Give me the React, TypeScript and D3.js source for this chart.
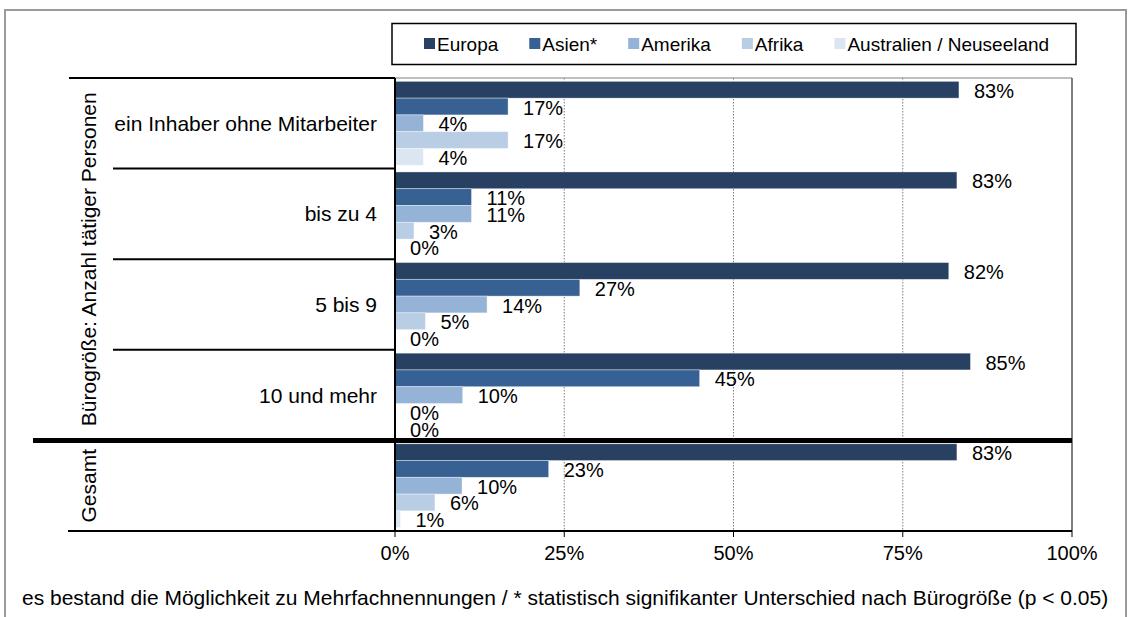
import React from "react";
import * as d3 from "d3";

const groups = ["ein Inhaber ohne Mitarbeiter", "bis zu 4", "5 bis 9", "10 und mehr", "Gesamt"];
const series = ["Europa", "Asien*", "Amerika", "Afrika", "Australien / Neuseeland"];
const colors = ["#284062", "#376093", "#95B3D7", "#B9CDE5", "#DCE6F2"];
const europa = [83.3, 83.0, 81.8, 85.0, 83.0];
const asien = [16.7, 11.3, 27.3, 45.0, 22.7];
const amerika = [4.2, 11.3, 13.6, 10.0, 9.9];
const afrika = [16.7, 2.8, 4.5, 0, 5.9];
const australien = [4.2, 0, 0, 0, 0.8];
const xTicks = [0, 25, 50, 75, 100];
const outerLabel = "Bürogröße: Anzahl tätiger Personen";
const totalLabel = "Gesamt";
const footnote =
  "es bestand die Möglichkeit zu Mehrfachnennungen / * statistisch signifikanter Unterschied nach Bürogröße (p < 0.05)";

const values = [europa, asien, amerika, afrika, australien];

const W = 1129;
const H = 617;
const FONT = "'Liberation Sans', Arial, Helvetica, sans-serif";
const plot = { left: 395, right: 1072, top: 78, bottom: 531 };

function measure(text: string, size: number) {
  const c = document.createElement("canvas").getContext("2d");
  if (!c) return text.length * size * 0.5;
  c.font = `${size}px 'Liberation Sans', Arial, sans-serif`;
  return c.measureText(text).width;
}

export default function App() {
  const x = d3.scaleLinear().domain([0, 100]).range([plot.left, plot.right]);
  const y0 = d3.scaleBand<string>().domain(groups).range([plot.top, plot.bottom]).padding(0);
  const y1 = d3
    .scaleBand<string>()
    .domain(series)
    .range([0, y0.bandwidth()])
    .paddingInner(0)
    .paddingOuter(0.2);

  // legend layout
  const legendFont = 19;
  const sw = 11;
  const gap = 31;
  const items: { x: number; label: string; color: string }[] = [];
  let lx = 424;
  series.forEach((s, i) => {
    items.push({ x: lx, label: s, color: colors[i] });
    lx += sw + 2 + measure(s, legendFont) + gap;
  });

  const boundaries = groups.map((g) => y0(g) as number);
  const thickY = y0("Gesamt") as number;

  return (
    <div style={{ position: "absolute", left: 0, top: 0 }}>
      <svg width={W} height={H} style={{ display: "block", background: "#fff" }} fontFamily={FONT}>
        <rect x={5} y={10} width={1121} height={640} fill="#fff" stroke="#9a9a9a" strokeWidth={2} />

        {/* legend */}
        <rect x={392} y={23.5} width={684} height={41} fill="#fff" stroke="#000" strokeWidth={1.5} />
        {items.map((it) => (
          <g key={it.label}>
            <rect x={it.x} y={38} width={sw} height={sw} fill={it.color} />
            <text x={it.x + sw + 2} y={44} dominantBaseline="central" fontSize={legendFont} fill="#000">
              {it.label}
            </text>
          </g>
        ))}

        {/* plot border (top/right) */}
        <line x1={plot.left} x2={plot.right} y1={plot.top} y2={plot.top} stroke="#808080" strokeWidth={1} />
        <line x1={plot.right} x2={plot.right} y1={plot.top} y2={plot.bottom} stroke="#000" strokeWidth={1} />

        {/* gridlines */}
        {xTicks
          .filter((t) => t > 0 && t < 100)
          .map((t) => (
            <line
              key={t}
              x1={x(t)}
              x2={x(t)}
              y1={plot.top}
              y2={plot.bottom}
              stroke="#7f7f7f"
              strokeWidth={1}
              strokeDasharray="1.5,1.5"
            />
          ))}

        {/* bars */}
        {groups.map((g, gi) =>
          series.map((s, si) => {
            const v = values[si][gi];
            const yy = (y0(g) as number) + (y1(s) as number);
            const h = y1.bandwidth();
            return (
              <g key={g + s}>
                {v > 0 && (
                  <rect
                    x={x(0)}
                    y={yy}
                    width={x(v) - x(0)}
                    height={h}
                    fill={colors[si]}
                    stroke="#ffffff"
                    strokeOpacity={0.5}
                    strokeWidth={0.75}
                  />
                )}
                <text
                  x={x(v) + 15}
                  y={yy + h / 2 + 1}
                  dominantBaseline="central"
                  fontSize={20}
                  fill="#000"
                >
                  {Math.round(v)}%
                </text>
              </g>
            );
          })
        )}

        {/* left structure */}
        <line x1={69} x2={plot.left} y1={plot.top} y2={plot.top} stroke="#000" strokeWidth={2} />
        {boundaries.slice(1, 4).map((b, i) => (
          <line key={i} x1={113} x2={plot.left} y1={b} y2={b} stroke="#000" strokeWidth={2} />
        ))}
        <line x1={33} x2={plot.right} y1={thickY} y2={thickY} stroke="#000" strokeWidth={5} />
        <line x1={68} x2={plot.right} y1={plot.bottom} y2={plot.bottom} stroke="#000" strokeWidth={2} />
        <line x1={plot.left} x2={plot.left} y1={plot.top} y2={plot.bottom} stroke="#000" strokeWidth={2} />

        {/* x ticks */}
        {xTicks.map((t) => (
          <g key={t}>
            <line x1={x(t)} x2={x(t)} y1={plot.bottom} y2={plot.bottom + 6} stroke="#000" strokeWidth={1} />
            <text x={x(t)} y={553} textAnchor="middle" dominantBaseline="central" fontSize={20} fill="#000">
              {t}%
            </text>
          </g>
        ))}

        {/* inner category labels */}
        {groups.slice(0, 4).map((g) => (
          <text
            key={g}
            x={377}
            y={(y0(g) as number) + y0.bandwidth() / 2}
            textAnchor="end"
            dominantBaseline="central"
            fontSize={21}
            fill="#000"
          >
            {g}
          </text>
        ))}

        {/* outer labels */}
        <text
          transform={`translate(88, ${(plot.top + thickY) / 2}) rotate(-90)`}
          textAnchor="middle"
          dominantBaseline="central"
          fontSize={21}
          fill="#000"
        >
          {outerLabel}
        </text>
        <text
          transform={`translate(88, ${(thickY + plot.bottom) / 2}) rotate(-90)`}
          textAnchor="middle"
          dominantBaseline="central"
          fontSize={21}
          fill="#000"
        >
          {totalLabel}
        </text>

        {/* footnote */}
        <text x={22} y={597} dominantBaseline="central" fontSize={21} fill="#000">
          {footnote}
        </text>
      </svg>
    </div>
  );
}
